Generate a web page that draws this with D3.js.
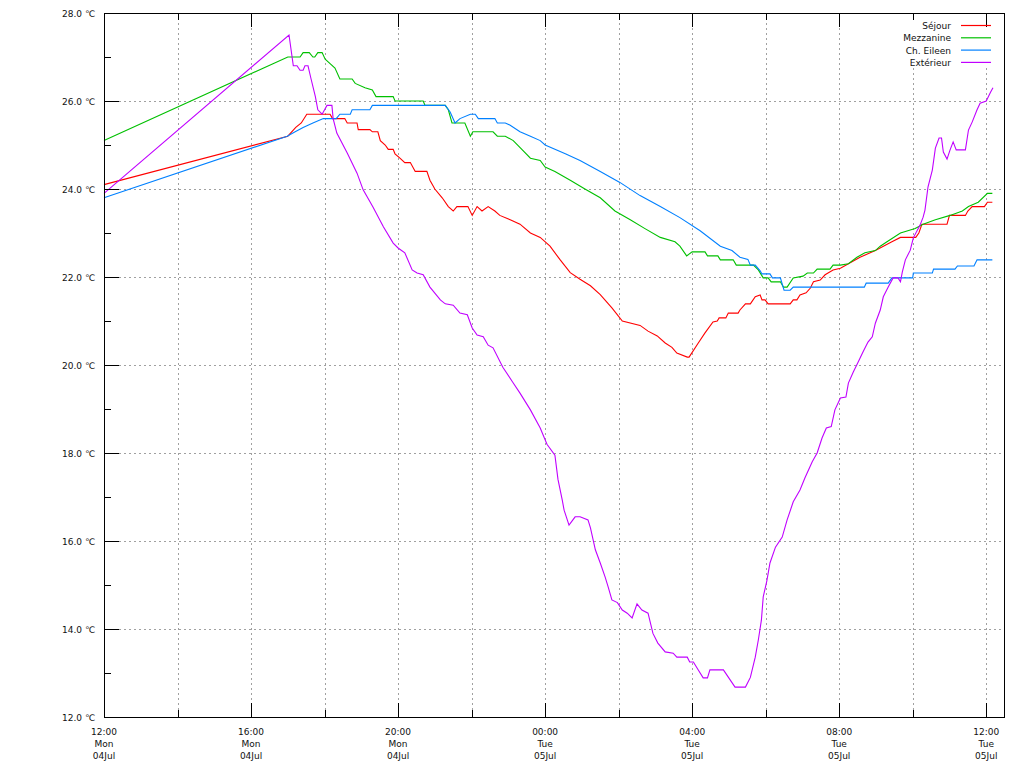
<!DOCTYPE html>
<html><head><meta charset="utf-8">
<script src="https://cdn.jsdelivr.net/npm/d3@7"></script>
<style>
body{margin:0;background:#fff}
svg{display:block}
text{font-family:"DejaVu Sans",sans-serif;font-size:9px;fill:#111}
</style>
</head><body>
<svg id="chart" width="1024" height="768"></svg>
<script>
const seriesNames = ["Séjour", "Mezzanine", "Ch. Eileen", "Extérieur"];
const seriesColors = ["#ff0000", "#00c000", "#0080ff", "#c000ff"];
const xDomain = ["04 12:00", "05 12:29"];
const yDomain = [12, 28];
const yMajorTicks = [12, 14, 16, 18, 20, 22, 24, 26, 28];

const sejour = [["04 12:00",24.1],["04 17:00",25.2],["04 17:13",25.4],["04 17:22",25.5],["04 17:31",25.7],["04 18:09",25.7],["04 18:13",25.6],["04 18:33",25.6],["04 18:37",25.5],["04 18:53",25.5],["04 18:55",25.35],["04 19:14",25.35],["04 19:18",25.3],["04 19:27",25.3],["04 19:31",25.1],["04 19:39",25.0],["04 19:44",24.9],["04 19:52",24.9],["04 19:55",24.8],["04 20:03",24.7],["04 20:11",24.6],["04 20:20",24.6],["04 20:28",24.4],["04 20:47",24.4],["04 20:52",24.2],["04 21:00",24.0],["04 21:12",23.8],["04 21:22",23.6],["04 21:30",23.5],["04 21:36",23.6],["04 21:54",23.6],["04 22:01",23.4],["04 22:09",23.6],["04 22:17",23.5],["04 22:27",23.6],["04 22:38",23.5],["04 22:46",23.4],["04 23:03",23.3],["04 23:19",23.2],["04 23:36",23.0],["04 23:52",22.9],["05 00:08",22.7],["05 00:24",22.4],["05 00:41",22.1],["05 00:57",21.95],["05 01:14",21.8],["05 01:30",21.6],["05 01:49",21.3],["05 02:06",21.0],["05 02:35",20.9],["05 02:48",20.77],["05 03:03",20.66],["05 03:16",20.5],["05 03:27",20.4],["05 03:35",20.27],["05 03:52",20.18],["05 03:55",20.18],["05 04:10",20.5],["05 04:21",20.73],["05 04:34",20.98],["05 04:41",21.0],["05 04:44",21.07],["05 04:55",21.07],["05 04:59",21.18],["05 05:15",21.18],["05 05:18",21.25],["05 05:27",21.39],["05 05:35",21.39],["05 05:43",21.55],["05 05:51",21.59],["05 05:54",21.48],["05 05:59",21.48],["05 06:04",21.39],["05 06:40",21.39],["05 06:45",21.48],["05 06:51",21.48],["05 06:56",21.59],["05 07:06",21.64],["05 07:13",21.75],["05 07:18",21.89],["05 07:29",21.93],["05 07:37",22.05],["05 07:50",22.16],["05 08:02",22.2],["05 08:34",22.45],["05 08:59",22.6],["05 09:26",22.8],["05 09:40",22.9],["05 10:05",22.9],["05 10:10",23.0],["05 10:15",23.2],["05 10:56",23.2],["05 11:00",23.4],["05 11:26",23.4],["05 11:30",23.5],["05 11:37",23.6],["05 11:57",23.6],["05 12:02",23.7],["05 12:10",23.7]];

const mezzanine = [["04 12:00",25.1],["04 17:00",27.0],["04 17:20",27.0],["04 17:25",27.1],["04 17:35",27.1],["04 17:41",27.0],["04 17:44",27.0],["04 17:49",27.1],["04 17:56",27.1],["04 18:01",26.95],["04 18:09",26.85],["04 18:17",26.75],["04 18:25",26.5],["04 18:45",26.5],["04 18:50",26.4],["04 19:06",26.3],["04 19:18",26.25],["04 19:24",26.1],["04 19:52",26.1],["04 19:55",26.0],["04 20:41",26.0],["04 20:44",25.9],["04 21:17",25.9],["04 21:22",25.8],["04 21:28",25.5],["04 21:49",25.5],["04 21:58",25.2],["04 22:02",25.3],["04 22:35",25.3],["04 22:42",25.2],["04 22:55",25.2],["04 23:08",25.1],["04 23:22",24.9],["04 23:36",24.7],["04 23:52",24.65],["05 00:00",24.5],["05 00:16",24.4],["05 00:41",24.2],["05 01:05",24.0],["05 01:30",23.8],["05 01:54",23.5],["05 02:19",23.3],["05 02:43",23.1],["05 03:08",22.9],["05 03:32",22.8],["05 03:40",22.7],["05 03:51",22.48],["05 04:00",22.57],["05 04:21",22.57],["05 04:25",22.48],["05 04:42",22.48],["05 04:46",22.39],["05 05:07",22.39],["05 05:12",22.27],["05 05:40",22.27],["05 05:48",22.16],["05 05:56",21.98],["05 06:04",21.98],["05 06:09",21.89],["05 06:24",21.89],["05 06:29",21.77],["05 06:35",21.77],["05 06:45",21.98],["05 07:01",22.02],["05 07:08",22.09],["05 07:18",22.09],["05 07:24",22.18],["05 07:45",22.18],["05 07:50",22.27],["05 08:02",22.27],["05 08:15",22.3],["05 08:29",22.45],["05 08:42",22.55],["05 08:59",22.6],["05 09:07",22.7],["05 09:18",22.8],["05 09:40",23.0],["05 10:04",23.1],["05 10:17",23.2],["05 10:37",23.3],["05 11:01",23.4],["05 11:21",23.5],["05 11:31",23.6],["05 11:47",23.7],["05 12:02",23.9],["05 12:10",23.9]];

const eileen = [["04 12:00",23.8],["04 16:59",25.2],["04 17:12",25.3],["04 17:25",25.4],["04 17:41",25.5],["04 17:58",25.6],["04 18:19",25.6],["04 18:25",25.7],["04 18:42",25.7],["04 18:45",25.8],["04 19:14",25.8],["04 19:18",25.9],["04 21:17",25.9],["04 21:25",25.75],["04 21:33",25.5],["04 21:41",25.6],["04 21:58",25.7],["04 22:06",25.7],["04 22:11",25.6],["04 22:38",25.6],["04 22:42",25.5],["04 22:55",25.5],["04 23:03",25.45],["04 23:19",25.3],["04 23:36",25.2],["04 23:52",25.1],["05 00:00",25.0],["05 00:33",24.8],["05 00:57",24.65],["05 01:30",24.4],["05 02:02",24.15],["05 02:35",23.85],["05 03:08",23.6],["05 03:40",23.35],["05 04:13",23.05],["05 04:46",22.7],["05 05:05",22.6],["05 05:18",22.45],["05 05:31",22.4],["05 05:35",22.27],["05 05:43",22.27],["05 05:51",22.14],["05 05:54",22.07],["05 06:07",22.07],["05 06:11",21.98],["05 06:24",21.98],["05 06:30",21.7],["05 06:40",21.7],["05 06:45",21.77],["05 08:41",21.77],["05 08:44",21.86],["05 09:20",21.86],["05 09:26",21.98],["05 10:00",21.98],["05 10:01",22.09],["05 10:32",22.09],["05 10:34",22.18],["05 11:09",22.18],["05 11:13",22.25],["05 11:40",22.25],["05 11:45",22.39],["05 12:10",22.39]];

const exterieur = [["04 12:00",23.9],["04 17:02",27.5],["04 17:09",26.8],["04 17:15",26.8],["04 17:20",26.7],["04 17:25",26.7],["04 17:28",26.8],["04 17:33",26.8],["04 17:38",26.5],["04 17:45",26.1],["04 17:49",25.8],["04 17:56",25.7],["04 18:04",25.9],["04 18:12",25.9],["04 18:14",25.6],["04 18:20",25.27],["04 18:37",24.82],["04 18:53",24.36],["04 19:03",23.98],["04 19:19",23.59],["04 19:36",23.14],["04 19:52",22.77],["04 20:00",22.66],["04 20:11",22.55],["04 20:23",22.16],["04 20:31",22.09],["04 20:41",22.05],["04 20:52",21.77],["04 21:09",21.48],["04 21:17",21.39],["04 21:30",21.36],["04 21:41",21.18],["04 21:53",21.14],["04 22:01",20.84],["04 22:09",20.68],["04 22:19",20.64],["04 22:27",20.45],["04 22:35",20.39],["04 22:51",19.95],["04 23:08",19.59],["04 23:19",19.36],["04 23:36",18.98],["04 23:52",18.57],["05 00:03",18.2],["05 00:16",17.95],["05 00:21",17.4],["05 00:28",16.93],["05 00:31",16.7],["05 00:39",16.36],["05 00:49",16.55],["05 00:57",16.55],["05 01:10",16.48],["05 01:14",16.3],["05 01:22",15.8],["05 01:30",15.5],["05 01:38",15.18],["05 01:43",14.95],["05 01:49",14.66],["05 01:58",14.6],["05 02:06",14.43],["05 02:14",14.36],["05 02:22",14.25],["05 02:30",14.57],["05 02:38",14.43],["05 02:48",14.36],["05 02:56",13.9],["05 03:04",13.68],["05 03:16",13.48],["05 03:29",13.45],["05 03:35",13.36],["05 03:52",13.36],["05 03:56",13.25],["05 04:02",13.25],["05 04:10",13.07],["05 04:18",12.89],["05 04:25",12.89],["05 04:29",13.07],["05 04:51",13.07],["05 05:10",12.68],["05 05:27",12.68],["05 05:35",12.9],["05 05:43",13.36],["05 05:48",13.75],["05 05:53",14.2],["05 05:56",14.73],["05 06:02",15.1],["05 06:07",15.5],["05 06:16",15.86],["05 06:27",16.09],["05 06:35",16.48],["05 06:45",16.89],["05 06:56",17.16],["05 07:04",17.43],["05 07:16",17.8],["05 07:24",18.0],["05 07:32",18.34],["05 07:39",18.57],["05 07:47",18.6],["05 07:53",18.98],["05 08:02",19.25],["05 08:11",19.27],["05 08:15",19.59],["05 08:23",19.84],["05 08:31",20.07],["05 08:39",20.3],["05 08:47",20.52],["05 08:54",20.64],["05 08:59",20.95],["05 09:07",21.25],["05 09:12",21.55],["05 09:20",21.77],["05 09:28",21.98],["05 09:36",21.98],["05 09:40",21.89],["05 09:43",22.11],["05 09:48",22.39],["05 09:56",22.61],["05 10:01",22.89],["05 10:12",23.18],["05 10:17",23.36],["05 10:20",23.52],["05 10:25",24.05],["05 10:32",24.43],["05 10:37",24.93],["05 10:43",25.16],["05 10:47",25.16],["05 10:50",24.84],["05 10:56",24.68],["05 11:01",24.89],["05 11:06",25.07],["05 11:11",24.89],["05 11:26",24.89],["05 11:31",25.34],["05 11:37",25.52],["05 11:45",25.8],["05 11:50",25.95],["05 12:00",26.0],["05 12:07",26.2],["05 12:11",26.3]];

const allSeries = [sejour, mezzanine, eileen, exterieur];

const parseT = d3.timeParse("%Y-%m-%d %H:%M");
const parse = s => parseT("2022-07-" + s);

const pLeft = 104, pRight = 1004, pTop = 13, pBottom = 717;
const x = d3.scaleTime().domain(xDomain.map(parse)).range([pLeft, pRight]);
const y = d3.scaleLinear().domain(yDomain).range([pBottom, pTop]);

const svg = d3.select("#chart");

// grid
const t0 = parse(xDomain[0]), t1 = parse(xDomain[1]);
const gridTimes = d3.timeHour.every(2).range(d3.timeHour.offset(t0, 2), t1);
const majorTimes = d3.timeHour.every(4).range(t0, t1);
const minorTimes = gridTimes.filter(t => t.getHours() % 4 !== 0);
const grid = svg.append("g").attr("stroke", "#a0a0a0").attr("stroke-dasharray", "2,3")
  .attr("shape-rendering", "crispEdges");
grid.selectAll("line.v").data(gridTimes).join("line")
  .attr("x1", d => Math.round(x(d)) + 0.5).attr("x2", d => Math.round(x(d)) + 0.5)
  .attr("y1", pTop).attr("y2", pBottom);
grid.selectAll("line.h").data(yMajorTicks.filter(v => v > yDomain[0] && v < yDomain[1])).join("line")
  .attr("x1", pLeft).attr("x2", pRight)
  .attr("y1", d => Math.round(y(d)) + 0.5).attr("y2", d => Math.round(y(d)) + 0.5);

// legend background (key area hides the grid)
svg.append("rect").attr("x", 896).attr("y", 18).attr("width", 100).attr("height", 50).attr("fill", "#fff");

// data lines
const line = d3.line().x(d => x(parse(d[0]))).y(d => y(d[1]));
allSeries.forEach((s, i) => {
  svg.append("path").datum(s).attr("d", line)
    .attr("fill", "none").attr("stroke", seriesColors[i]).attr("stroke-width", 1.1);
});

// border and ticks
const ax = svg.append("g").attr("stroke", "#000").attr("shape-rendering", "crispEdges");
ax.append("rect").attr("x", pLeft + 0.5).attr("y", pTop + 0.5)
  .attr("width", pRight - pLeft).attr("height", pBottom - pTop).attr("fill", "none");
const px = d => Math.round(x(d)) + 0.5;
majorTimes.forEach(t => {
  ax.append("line").attr("x1", px(t)).attr("x2", px(t)).attr("y1", pBottom).attr("y2", pBottom - 14);
  ax.append("line").attr("x1", px(t)).attr("x2", px(t)).attr("y1", pTop).attr("y2", pTop + 14);
});
minorTimes.forEach(t => {
  ax.append("line").attr("x1", px(t)).attr("x2", px(t)).attr("y1", pBottom).attr("y2", pBottom - 7);
  ax.append("line").attr("x1", px(t)).attr("x2", px(t)).attr("y1", pTop).attr("y2", pTop + 7);
});
d3.range(yDomain[0], yDomain[1] + 1).forEach(v => {
  const yy = Math.round(y(v)) + 0.5;
  const len = v % 2 === 0 ? 15 : 7;
  ax.append("line").attr("x1", pLeft).attr("x2", pLeft + len).attr("y1", yy).attr("y2", yy);
});

// y labels
svg.append("g").selectAll("text").data(yMajorTicks).join("text")
  .attr("x", 95).attr("y", d => y(d) + 3.5).attr("text-anchor", "end")
  .text(d => d3.format(".1f")(d) + " \u2103");

// x labels
const fmtH = d3.timeFormat("%H:%M"), fmtD = d3.timeFormat("%a"), fmtDM = d3.timeFormat("%d%b");
const xl = svg.append("g").selectAll("g").data(majorTimes).join("g")
  .attr("transform", d => `translate(${x(d)},0)`);
xl.append("text").attr("y", 735).attr("text-anchor", "middle").text(fmtH);
xl.append("text").attr("y", 747).attr("text-anchor", "middle").text(fmtD);
xl.append("text").attr("y", 759).attr("text-anchor", "middle").text(fmtDM);

// legend
const lg = svg.append("g").selectAll("g").data(seriesNames).join("g")
  .attr("transform", (d, i) => `translate(0,${25.5 + i * 12.3})`);
lg.append("text").attr("x", 951).attr("y", 3.5).attr("text-anchor", "end").text(d => d);
lg.append("line").attr("x1", 961).attr("x2", 991).attr("y1", 0).attr("y2", 0)
  .attr("stroke", (d, i) => seriesColors[i]).attr("stroke-width", 1.2);
</script>
</body></html>
